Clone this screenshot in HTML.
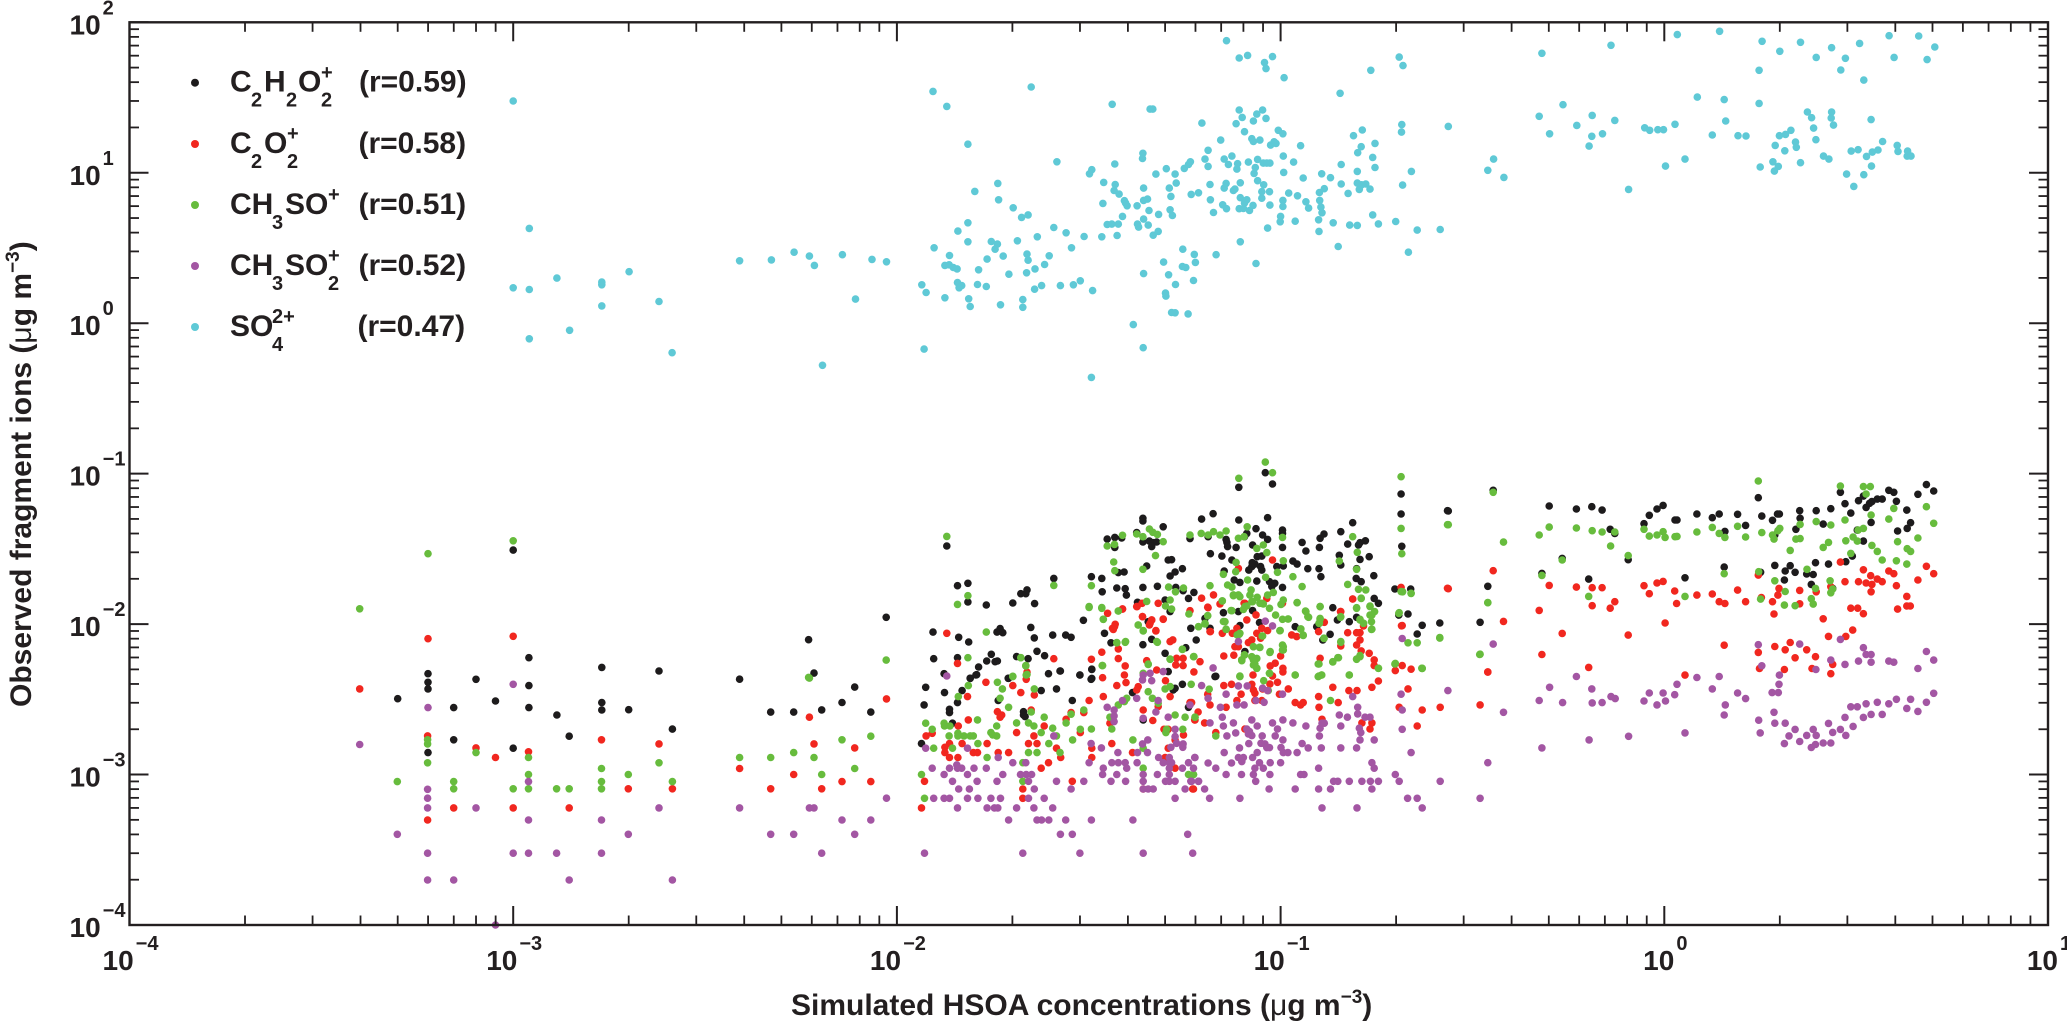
<!DOCTYPE html>
<html lang="en">
<head>
<meta charset="utf-8">
<title>Observed fragment ions vs simulated HSOA</title>
<style>
html,body{margin:0;padding:0;background:#fff}
svg{display:block}
text{font-family:"Liberation Sans",Arial,sans-serif;fill:#231f20}
.lg{font-size:30px;font-weight:700}
.lgs{font-size:20px;font-weight:700}
.ttl{font-size:30px;font-weight:700}
</style>
</head>
<body>
<svg id="chart" xmlns="http://www.w3.org/2000/svg" width="2067" height="1023" viewBox="0 0 2067 1023">
<g id="marks"></g>
<g id="axes"></g>
<rect x="129.5" y="22.3" width="1918.5" height="902.7" fill="none" stroke="#231f20" stroke-width="2.4"/>
<text class="ttl" x="791" y="1015">Simulated HSOA concentrations (<tspan font-weight="400">μ</tspan>g m<tspan dy="-12" font-size="19">−3</tspan><tspan dy="12">)</tspan></text>
<text class="ttl" transform="translate(31,707) rotate(-90)">Observed fragment ions (<tspan font-weight="400">μ</tspan>g m<tspan dy="-12" font-size="19">−3</tspan><tspan dy="12">)</tspan></text>
<g>
<g>
<circle cx="195" cy="82.7" r="4" fill="#1d1b1c"/>
<text class="lg" y="91.7"><tspan x="230">C</tspan><tspan x="264">H</tspan><tspan x="298">O</tspan><tspan x="359">(r=0.59)</tspan></text>
<text class="lgs" y="106.7"><tspan x="251">2</tspan><tspan x="286">2</tspan><tspan x="321">2</tspan></text>
<text class="lgs" x="321" y="79">+</text>
</g>
<g>
<circle cx="195" cy="144" r="4" fill="#f1271f"/>
<text class="lg" y="153"><tspan x="230">C</tspan><tspan x="264">O</tspan><tspan x="358.5">(r=0.58)</tspan></text>
<text class="lgs" y="168"><tspan x="251">2</tspan><tspan x="287">2</tspan></text>
<text class="lgs" x="287" y="140">+</text>
</g>
<g>
<circle cx="195" cy="205" r="4" fill="#67bc3d"/>
<text class="lg" y="214"><tspan x="230">CH</tspan><tspan x="285">SO</tspan><tspan x="358.5">(r=0.51)</tspan></text>
<text class="lgs" x="272" y="229">3</text>
<text class="lgs" x="328" y="201">+</text>
</g>
<g>
<circle cx="195" cy="266" r="4" fill="#a356a3"/>
<text class="lg" y="275"><tspan x="230">CH</tspan><tspan x="285">SO</tspan><tspan x="358.5">(r=0.52)</tspan></text>
<text class="lgs" y="290"><tspan x="272">3</tspan><tspan x="328">2</tspan></text>
<text class="lgs" x="328" y="262">+</text>
</g>
<g>
<circle cx="195" cy="327" r="4" fill="#5fc9d6"/>
<text class="lg" y="336"><tspan x="230">SO</tspan><tspan x="357.5">(r=0.47)</tspan></text>
<text class="lgs" x="272" y="351">4</text>
<text class="lgs" x="272" y="323">2+</text>
</g>
</g>
</svg>
<script>
// All values are log10 of the concentration (µg m-3): [log10 x, log10 y]
const xDecades = [-4,-3,-2,-1,0,1];
const yDecades = [-4,-3,-2,-1,0,1,2];
const minorMultipliers = [2,3,4,5,6,7,8,9];

const black = [[-3.301,-2.496],[-3.222,-2.33],[-3.222,-2.387],[-3.222,-2.431],[-3.155,-2.555],[-3.097,-2.367],[-3.046,-2.511],[-3,-1.508],[-2.959,-2.223],[-2.959,-2.409],[-2.959,-2.555],[-2.886,-2.604],[-2.769,-2.288],[-2.769,-2.522],[-2.769,-2.571],[-2.699,-2.569],[-2.62,-2.312],[-2.41,-2.366],[-2.329,-2.585],[-2.269,-2.585],[-2.216,-2.326],[-2.196,-2.57],[-2.143,-2.521],[-2.11,-2.419],[-2.068,-2.585],[-2.585,-2.698],[-2.854,-2.745],[-3.155,-2.769],[-3,-2.825],[-3.222,-2.854],[-2.23,-2.104],[-2.028,-1.955],
[-1.87,-1.481],[-1.842,-1.745],[-1.815,-1.729],[-1.815,-1.853],[-1.767,-1.873],[-1.698,-1.86],[-1.641,-1.864],[-1.677,-1.798],[-1.664,-1.798],[-1.661,-1.773],[-1.591,-1.696],[-1.906,-2.053],[-1.839,-2.088],[-1.813,-2.119],[-1.739,-2.053],[-1.731,-2.03],[-1.724,-2.057],[-1.651,-2.022],[-1.642,-2.092],[-1.594,-2.073],[-1.56,-2.073],[-1.546,-2.088],[-1.904,-2.23],[-1.842,-2.223],[-1.754,-2.201],[-1.766,-2.245],[-1.744,-2.25],[-1.738,-2.245],[-1.688,-2.216],[-1.658,-2.23],[-1.635,-2.181],[-1.615,-2.21],[-1.787,-2.285],[-1.605,-2.33],[-1.574,-2.312],[-1.877,-2.33],[-1.792,-2.336],[-1.809,-2.36],[-1.709,-2.36],
[-1.493,-1.685],[-1.466,-1.696],[-1.465,-1.785],[-1.514,-1.975],[-1.427,-1.76],[-1.405,-1.765],[-1.402,-1.807],[-1.359,-1.756],[-1.321,-1.749],[-1.452,-1.435],[-1.432,-1.424],[-1.414,-1.428],[-1.432,-1.49],[-1.359,-1.297],[-1.359,-1.315],[-1.375,-1.392],[-1.306,-1.353],[-1.359,-1.454],[-1.342,-1.448],[-1.332,-1.459],[-1.323,-1.454],[-1.336,-1.485],[-1.206,-1.302],[-1.176,-1.266],[-1.236,-1.432],[-1.189,-1.419],[-1.349,-1.614],[-1.423,-1.658],[-1.408,-1.654],[-1.293,-1.574],[-1.284,-1.572],[-1.288,-1.68],[-1.275,-1.654],[-1.256,-1.632],[-1.273,-1.756],[-1.254,-1.778],[-1.24,-1.829],[-1.226,-1.789],[-1.183,-1.532],[-1.153,-1.548],[-1.142,-1.437],[-1.14,-1.457],[-1.138,-1.485],[-1.116,-1.49],[-1.109,-1.091],[-1.109,-1.308],[-1.04,-.994],[-1.021,-1.069],[-1.034,-1.293],[-1.127,-1.574],[-1.121,-1.707],[-1.106,-1.723],[-1.147,-1.647],[-1.088,-1.397],[-1.094,-1.419],[-1.064,-1.366],[-1.047,-1.408],[-1.034,-1.437],[-.995,-1.375],[-.995,-1.397],[-1.073,-1.474],[-.995,-1.49],[-1.061,-1.552],[-1.049,-1.548],[-1.083,-1.641],[-1.075,-1.618],[-1.067,-1.601],[-1.052,-1.618],[-1.049,-1.641],[-1.074,-1.592],[-1.062,-1.714],[-1.029,-1.718],[-1.015,-1.729],[-.995,-1.756],[-1.023,-1.751],[-.993,-1.614],[-1.01,-1.618],[-.944,-1.457],[-.934,-1.514],[-.968,-1.581],[-.957,-1.601],[-.929,-1.632],[-.899,-1.49],[-.897,-1.43],[-.887,-1.401],[-.9,-1.632],[-.895,-1.685],[-.843,-1.386],[-.812,-1.326],[-.825,-1.468],[-.847,-1.543],[-.843,-1.607],[-.797,-1.474],[-.793,-1.459],[-.779,-1.446],[-.793,-1.57],[-.769,-1.552],[-.802,-1.632],[-.803,-1.696],[-.79,-1.718],[-.757,-1.678],[-.756,-1.829],[-.745,-1.862],[-.864,-1.891],[-.802,-1.955],[-.852,-1.973],[-.821,-1.984],[-.686,-1.135],[-.686,-1.268],[-.684,-1.483],[-.702,-1.767],[-.661,-1.767],[-.668,-1.933],[-.692,-1.94],[-.631,-2.008],[-.644,-2.066],[-.585,-1.993],[-.565,-1.246],
[-1.149,-1.924],[-1.197,-1.962],[-1.184,-2.028],[-1.234,-2.028],[-1.345,-1.984],[-1.301,-1.84],[-1.288,-1.917],[-1.373,-1.855],[-1.442,-2.124],[-1.359,-2.137],[-1.336,-2.101],[-1.301,-2.194],[-1.22,-2.106],[-1.247,-2.157],[-1.492,-2.301],[-1.575,-2.312],[-1.523,-2.338],[-1.106,-2.01],[-1.093,-2.183],[-1.11,-1.917],[-1.073,-1.91],[-1.055,-1.99],[-.962,-2.017],[-.871,-2.068],[-.89,-2.106],[-.906,-2.017],[-1.171,-2.349],[-1.492,-2.361],[-1.459,-2.061],
[-1.925,-2.42],[-1.876,-2.455],[-1.929,-2.537],[-1.83,-2.442],[-1.842,-2.522],[-1.863,-2.566],[-1.863,-2.588],[-1.855,-2.659],[-1.936,-2.794],[-1.809,-2.36],[-1.794,-2.338],[-1.71,-2.36],[-1.736,-2.508],[-1.67,-2.582],[-1.67,-2.604],[-1.666,-2.615],[-1.624,-2.442],[-1.584,-2.431],[-1.543,-2.508],[-1.523,-2.338],[-1.492,-2.3],[-1.494,-2.367],[-1.386,-2.455],[-1.358,-2.637],[-1.28,-2.438],[-1.275,-2.427],[-1.256,-2.4],[-1.24,-2.553],[-1.293,-2.316],[-1.169,-2.347],[-.48,-1.988],
[-.563,-1.248],[-.446,-1.111],[-.46,-1.749],[-.319,-1.663],[-.3,-1.215],[-.266,-1.563],[-.229,-1.235],[-.189,-1.22],[-.162,-1.242],[-.197,-1.701],[-.141,-1.37],[-.129,-1.397],[-.094,-1.572],[-.053,-1.333],[-.039,-1.277],[-.019,-1.235],[-.003,-1.211],[.028,-1.308],[.033,-1.308],[.054,-1.692],[.085,-1.268],[.125,-1.293],[.143,-1.268],[.158,-1.384],[.156,-1.621],[.191,-1.27],[.212,-1.344],[.245,-1.16],[.254,-1.282],[.282,-1.31],[.295,-1.268],[.3,-1.268],[.288,-1.408],[.251,-1.656],[.288,-1.61],[.315,-1.647],[.328,-1.612],[.341,-1.656],[.313,-1.707],[.353,-1.246],[.354,-1.297],[.343,-1.37],[.396,-1.246],[.414,-1.335],[.434,-1.233],[.394,-1.592],[.371,-1.667],[.388,-1.67],[.383,-1.736],[.428,-1.601],[.439,-1.763],[.459,-1.124],[.471,-1.2],[.486,-1.262],[.506,-1.18],[.519,-1.149],[.526,-1.224],[.535,-1.197],[.541,-1.186],[.555,-1.169],[.568,-1.169],[.585,-1.111],[.598,-1.124],[.605,-1.184],[.632,-1.242],[.661,-1.137],[.683,-1.073],[.702,-1.115],[.539,-1.324],[.503,-1.375],[.519,-1.448],[.608,-1.381],[.633,-1.364],[.642,-1.326],[.49,-1.548],[.473,-1.585]];

const red = [[-3.4,-2.431],[-3.222,-2.097],[-3,-2.081],[-3.223,-2.743],[-3.097,-2.823],[-3.046,-2.887],[-2.96,-2.849],[-2.77,-2.769],[-2.62,-2.796],[-3.223,-3.302],[-3.155,-3.222],[-3,-3.222],[-2.854,-3.222],[-2.7,-3.095],[-2.585,-3.095],[-2.41,-2.96],[-2.329,-3.095],[-2.269,-3],[-2.228,-2.619],[-2.216,-2.796],[-2.196,-3.095],[-2.143,-3.047],[-2.11,-2.823],[-2.068,-3.047],[-2.027,-2.497],
[-1.87,-2.061],[-1.842,-2.261],[-1.591,-2.23],[-1.661,-2.32],[-1.816,-2.482],[-1.768,-2.387],[-1.698,-2.409],[-1.677,-2.455],[-1.663,-2.367],[-1.642,-2.471],[-1.814,-2.637],[-1.84,-2.677],[-1.738,-2.582],[-1.727,-2.604],[-1.731,-2.619],[-1.65,-2.571],[-1.924,-2.743],[-1.908,-2.726],[-1.863,-2.794],[-1.875,-2.819],[-1.875,-2.854],[-1.863,-2.887],[-1.841,-2.887],[-1.83,-2.794],[-1.801,-2.854],[-1.79,-2.854],[-1.765,-2.794],[-1.736,-2.854],[-1.709,-2.854],[-1.688,-2.721],[-1.657,-2.794],[-1.635,-2.794],[-1.643,-2.743],[-1.616,-2.677],[-1.584,-2.825],[-1.573,-2.887],[-1.605,-2.921],[-1.624,-2.958],[-1.559,-2.633],[-1.546,-2.588],[-1.522,-2.721],[-1.513,-2.588],[-1.499,-2.508],[-1.462,-2.482],[-1.427,-2.409],[-1.403,-2.389],[-1.407,-2.338],[-1.405,-2.278],[-1.423,-2.229],[-1.464,-2.356],[-1.493,-2.234],[-1.466,-2.187],[-1.423,-2.165],[-1.438,-2.028],[-1.431,-2.001],[-1.451,-1.928],[-1.412,-1.899],[-1.375,-1.884],[-1.36,-1.95],[-1.34,-1.995],[-1.336,-1.972],[-1.325,-2.043],[-1.306,-1.966],[-1.319,-1.862],[-1.445,-2.659],[-1.492,-2.825],[-1.492,-2.887],[-1.44,-2.794],[-1.386,-2.854],[-1.543,-3.045],[-1.672,-3.096],[-1.672,-3.158],[-1.928,-3.045],[-1.936,-3.222],[-1.358,-3.096],[-1.229,-3.096],[-1.275,-2.958],[-1.301,-2.887],[-1.293,-2.825],[-1.293,-2.699],[-1.304,-2.699],[-1.253,-2.737],[-1.275,-2.77],[-1.223,-2.637],[-1.236,-2.522],[-1.288,-2.482],[-1.358,-2.571],[-1.333,-2.641],[-1.375,-2.438],[-1.371,-2.416],[-1.349,-2.243],[-1.323,-2.305],[-1.271,-2.227],[-1.254,-2.227],[-1.273,-2.271],[-1.254,-2.276],[-1.226,-2.318],[-1.288,-2.116],[-1.281,-2.105],[-1.319,-2.548],[-1.3,-2.376],[-1.21,-2.25],
[-1.206,-1.828],[-1.175,-1.806],[-1.158,-1.866],[-1.19,-1.888],[-1.064,-1.939],[-1.093,-1.862],[-1.088,-1.972],[-1.152,-2.061],[-1.126,-2.061],[-1.114,-2.028],[-1.184,-2.05],[-1.119,-2.15],[-1.11,-2.15],[-1.075,-2.105],[-1.084,-2.123],[-1.062,-2.061],[-1.049,-2.028],[-1.034,-2.043],[-1.052,-2.094],[-1.148,-2.212],[-1.122,-2.207],[-1.101,-2.238],[-1,-2.212],[-1.027,-2.278],[-1.014,-2.26],[-.994,-2.294],[-.994,-2.318],[-1.072,-2.338],[-1.021,-2.345],[-1.028,-2.398],[-1.008,-2.387],[-1.148,-2.409],[-1.128,-2.4],[-1.075,-2.4],[-1.071,-2.438],[-1.067,-2.46],[-1.047,-2.431],[-.98,-2.431],[-1.003,-2.466],[-1.103,-2.466],[-1.114,-2.508],[-1.19,-2.466],[-1.184,-2.537],[-1.142,-2.553],[-1.067,-2.508],[-1.049,-2.508],[-.962,-2.522],[-.948,-2.537],[-.941,-2.522],[-.901,-2.482],[-.9,-2.553],[-.864,-2.42],[-.85,-2.522],[-.822,-2.442],[-.801,-2.442],[-.762,-2.42],[-.745,-2.378],[-.892,-2.633],[-.788,-2.657],[-.762,-2.657],[-.767,-2.697],[-.691,-2.553],[-.668,-2.431],[-.631,-2.571],[-.584,-2.553],[-.48,-2.537],[-.644,-2.677],[-.46,-2.318],[-.683,-2.01],[-.683,-2.276],[-.701,-2.309],[-.66,-2.3],[-.897,-2.227],[-.802,-2.139],[-.793,-2.105],[-.793,-2.057],[-.802,-2.057],[-.784,-2.012],[-.79,-2.178],[-.769,-2.194],[-.756,-2.238],[-.756,-2.276],[-.825,-2.057],[-.812,-1.833],[-.844,-1.917],[-.843,-2.145],[-.901,-2.05],[-.886,-1.988],[-.958,-2.083],[-.971,-2.072],[-1.232,-2.522],[-1.215,-2.584],[-1.224,-2.637],[-1.198,-2.657],[-1.093,-2.697],[-1.169,-2.721],[-1.227,-3.096],
[-1.412,-1.9],[-1.374,-1.884],[-1.361,-1.862],[-1.189,-1.891],[-1.236,-1.911],[-1.36,-1.951],[-1.336,-1.973],[-1.342,-2.006],[-1.306,-1.968],[-1.433,-2.017],[-1.436,-2.035],[-1.325,-2.046],[-1.183,-2.05],[-1.021,-1.574],[-1.11,-1.63],[-1.095,-1.862],[-.812,-1.833],[-.843,-1.917],[-.686,-1.756],[-.565,-1.762],[-.995,-1.862],[-1.036,-1.829],[-.685,-2.011],
[-.563,-1.765],[-.446,-1.645],[-.419,-1.982],[-.46,-2.319],[-.326,-1.909],[-.3,-1.743],[-.266,-2.062],[-.319,-2.202],[-.229,-1.754],[-.188,-1.758],[-.162,-1.758],[-.129,-1.851],[-.188,-1.878],[-.141,-1.894],[-.094,-2.073],[-.197,-2.288],[-.053,-1.745],[-.039,-1.798],[-.019,-1.727],[-.003,-1.716],[.027,-1.78],[.032,-1.863],[.002,-1.993],[.054,-2.339],[.085,-1.807],[.125,-1.8],[.143,-1.851],[.158,-1.863],[.156,-2.14],[.191,-1.774],[.212,-1.851],[.245,-1.674],[.253,-1.823],[.282,-1.851],[.299,-1.763],[.296,-1.807],[.286,-1.933],[.353,-1.776],[.353,-1.865],[.396,-1.785],[.434,-1.752],[.414,-1.965],[.459,-1.588],[.471,-1.718],[.506,-1.718],[.519,-1.639],[.526,-1.727],[.541,-1.736],[.538,-1.678],[.555,-1.701],[.568,-1.718],[.539,-1.785],[.585,-1.647],[.598,-1.665],[.605,-1.745],[.632,-1.816],[.661,-1.707],[.683,-1.616],[.702,-1.665],[.486,-1.894],[.504,-1.894],[.519,-1.931],[.608,-1.9],[.632,-1.88],[.641,-1.88],[.428,-2.082],[.473,-2.082],[.491,-2.04],[.245,-2.188],[.288,-2.149],[.315,-2.171],[.328,-2.122],[.371,-2.171],[.394,-2.217],[.341,-2.224],[.439,-2.268],[.248,-2.295],[.313,-2.302],[.385,-2.295],[.434,-2.33]];

const green = [[-3.4,-1.898],[-3.222,-1.532],[-3,-1.446],[-3.302,-3.047],[-3.223,-2.769],[-3.223,-2.796],[-3.223,-2.922],[-3.155,-3.047],[-3.155,-3.095],[-3.097,-2.854],[-3,-3.095],[-2.96,-2.887],[-2.96,-3],[-2.96,-3.095],[-2.887,-3.095],[-2.854,-3.095],[-2.77,-2.96],[-2.77,-3.047],[-2.77,-3.095],[-2.7,-3],[-2.62,-2.922],[-2.585,-3.047],[-2.41,-2.887],[-2.329,-2.887],[-2.269,-2.854],[-2.228,-2.359],[-2.216,-2.887],[-2.196,-3],[-2.143,-2.769],[-2.11,-2.96],[-2.068,-2.745],[-2.028,-2.239],[-2.23,-2.354],
[-1.87,-1.417],[-1.842,-1.869],[-1.815,-1.811],[-1.591,-1.743],[-1.767,-2.053],[-1.815,-2.223],[-1.677,-2.223],[-1.664,-2.276],[-1.661,-2.334],[-1.698,-2.347],
[-1.493,-1.745],[-1.452,-1.481],[-1.433,-1.47],[-1.412,-1.41],[-1.435,-1.587],[-1.432,-1.645],[-1.375,-1.401],[-1.359,-1.419],[-1.342,-1.368],[-1.333,-1.39],[-1.321,-1.404],[-1.306,-1.452],[-1.326,-1.545],[-1.359,-1.636],[-1.236,-1.408],[-1.207,-1.397],[-1.189,-1.408],[-1.175,-1.386],[-1.158,-1.408],[-1.142,-1.381],[-1.11,-1.43],[-1.095,-1.419],[-1.087,-1.353],[-1.109,-1.031],[-1.04,-.923],[-1.021,-.994],[-.995,-1.424],[-1.062,-1.497],[-1.045,-1.474],[-1.036,-1.525],[-1.116,-1.59],[-1.117,-1.652],[-1.149,-1.669],[-.993,-1.579],[-1.008,-1.656],[-1.039,-1.689],[-1.086,-1.707],[-.968,-1.685],[-1.184,-1.745],[-1.292,-1.754],[-1.274,-1.785],[-1.253,-1.76],[-1.138,-1.74],[-1.127,-1.754],[-1.077,-1.773],[-1.08,-1.807],[-1.061,-1.822],[-1.073,-1.851],[-1.045,-1.866],[-1.123,-1.811],[-1.106,-1.818],[-1.034,-1.807],[-1.019,-1.789],[-.944,-1.751],[-.812,-1.419],[-.8,-1.523],[-.802,-1.636],[-.847,-1.581],[-.825,-1.736],[-.797,-1.769],[-.778,-1.773],[-.79,-1.829],[-.686,-1.02],[-.686,-1.364],[-.684,-1.532],[-.682,-1.785],[-.66,-1.796],[-.565,-1.339],[-.692,-1.929],[-.668,-2.124],[-.644,-2.124],[-.585,-2.09],[-.631,-2.294],[-.701,-2.261],[-1.499,-1.889],[-1.466,-1.895],[-1.423,-1.913],[-1.462,-1.968],[-1.349,-1.849],[-1.288,-1.84],[-1.3,-1.88],[-1.284,-1.9],[-1.371,-2.006],[-1.358,-2.046],[-1.427,-2.124],[-1.405,-2.121],[-1.321,-2.121],[-1.239,-1.933],[-1.214,-2.017],[-1.197,-1.999],[-1.19,-1.944],[-1.152,-1.846],[-1.145,-1.984],[-1.142,-2.035],[-1.127,-1.911],[-1.097,-1.902],[-1.088,-1.88],[-1.049,-1.862],[-1.029,-1.895],[-1.013,-1.94],[-.995,-1.968],[-.981,-1.966],[-.999,-1.869],[-.993,-1.84],[-.957,-1.858],[-.935,-1.913],[-.929,-1.951],[-.897,-1.884],[-.897,-1.962],[-.9,-1.995],[-1.002,-2.044],[-.948,-2.033],[-.941,-2.073],[-.887,-2.095],[-.843,-1.951],[-.802,-1.891],[-.767,-1.88],[-.763,-1.94],[-.767,-1.94],[-.793,-1.973],[-.784,-1.995],[-.763,-1.984],[-.763,-2.035],[-.843,-2.121],[-1.048,-2.079],[-1.108,-2.068],[-1.071,-2.15],[-1.054,-2.155],[-1.094,-2.205],[-1.075,-2.217],[-1.062,-2.228],[-1.101,-2.243],[-1.071,-2.272],[-1.062,-2.294],[-1.028,-2.188],[-.995,-2.139],[-.995,-2.172],[-1.288,-2.234],[-1.256,-2.168],[-1.227,-2.217],[-1.465,-2.276],[-1.345,-2.268],[-1.358,-2.327],[-1.106,-2.349],[-1.029,-2.327],[-.962,-2.338],[-.902,-2.349],[-.893,-2.338],[-.821,-2.338],[-.902,-2.265],[-.864,-2.252],[-.849,-2.223],[-.802,-2.234],[-.793,-2.217],[-.745,-2.294],
[-1.925,-2.659],[-1.908,-2.699],[-1.877,-2.659],[-1.876,-2.677],[-1.862,-2.677],[-1.864,-2.743],[-1.841,-2.726],[-1.841,-2.743],[-1.825,-2.743],[-1.809,-2.743],[-1.801,-2.743],[-1.904,-2.825],[-1.855,-2.825],[-1.789,-2.794],[-1.79,-2.637],[-1.765,-2.887],[-1.755,-2.721],[-1.74,-2.677],[-1.74,-2.743],[-1.75,-2.737],[-1.814,-2.409],[-1.84,-2.482],[-1.738,-2.387],[-1.725,-2.431],[-1.731,-2.493],[-1.709,-2.553],[-1.698,-2.349],[-1.677,-2.223],[-1.664,-2.278],[-1.663,-2.338],[-1.642,-2.431],[-1.65,-2.584],[-1.688,-2.657],[-1.657,-2.657],[-1.643,-2.677],[-1.616,-2.619],[-1.624,-2.721],[-1.594,-2.692],[-1.584,-2.743],[-1.559,-2.657],[-1.546,-2.599],[-1.604,-2.794],[-1.657,-2.854],[-1.635,-2.854],[-1.575,-2.854],[-1.542,-2.77],[-1.522,-2.699],[-1.493,-2.697],[-1.513,-2.571],[-1.928,-3.158],[-1.936,-3],[-1.672,-2.921],[-1.672,-3.045],[-1.44,-2.697],[-1.445,-2.619],[-1.423,-2.537],[-1.407,-2.515],[-1.401,-2.493],[-1.385,-2.77],[-1.358,-2.825],[-1.358,-2.958],[-1.345,-2.449],[-1.334,-2.493],[-1.319,-2.526],[-1.464,-2.276],[-1.499,-1.884],[-1.466,-1.89],[-1.462,-1.968],[-1.423,-1.913],[-1.427,-2.123],[-1.404,-2.116],[-1.371,-2.006],[-1.358,-2.043],[-1.323,-2.116],[-1.256,-2.167],[-1.288,-2.232],[-1.345,-2.265],[-1.226,-2.216],[-1.301,-2.431],[-1.288,-2.415],[-1.233,-2.4],[-1.249,-2.619],[-1.223,-2.619],[-1.275,-2.604],[-1.299,-2.721],[-1.297,-2.699],[-1.255,-2.699],[-1.24,-3],[-1.227,-3],
[-1.214,-2.017],[-1.197,-1.995],[-1.19,-1.944],[-1.152,-1.846],[-1.123,-1.806],[-1.11,-1.806],[-1.149,-1.983],[-1.142,-2.034],[-1.129,-1.91],[-1.093,-1.884],[-1.075,-1.851],[-1.054,-1.862],[-1.113,-2.072],[-1.106,-2.061],[-1.001,-2.043],[-1.027,-2.183],[-1.101,-2.238],[-1.094,-2.205],[-1.071,-2.15],[-1.055,-2.154],[-.993,-2.15],[-.993,-2.172],[-1.047,-2.079],[-1.071,-2.238],[-1.067,-2.265],[-1.062,-2.294],[-1.029,-2.327],[-1.106,-2.345],[-1.044,-2.376],[-1.032,-2.442],[-.962,-2.338],[-.9,-2.345],[-.893,-2.338],[-.821,-2.338],[-.9,-2.265],[-.864,-2.25],[-.851,-2.223],[-.802,-2.232],[-.793,-2.209],[-.745,-2.294],[-.702,-2.265],[-.632,-2.294],[-.48,-2.2],[-.87,-2.508],[-1.186,-2.433],[-1.223,-2.619],[-1.169,-2.743],[-1.227,-3],[-.947,-2.032],[-.941,-2.076],[-.887,-2.094],[-.843,-2.116],[-.98,-1.966],[-.957,-1.857],[-.934,-1.917],[-.927,-1.955],[-.897,-1.884],[-.897,-1.968],[-.899,-1.995],[-.844,-1.955],[-.802,-1.895],[-.793,-1.968],[-.784,-1.995],[-.762,-2.034],[-.767,-1.884],[-.755,-1.917],[-.762,-1.939],[-.691,-1.924],[-.46,-1.857],[-.79,-1.828],[-.686,-1.784],[-.66,-1.795],
[-.563,-1.339],[-.446,-1.124],[-.419,-1.455],[-.46,-1.858],[-.585,-2.093],[-.481,-2.202],[-.631,-2.295],[-.326,-1.408],[-.3,-1.355],[-.266,-1.574],[-.319,-1.676],[-.229,-1.361],[-.188,-1.379],[-.162,-1.388],[-.14,-1.481],[-.129,-1.388],[-.094,-1.545],[-.197,-1.816],[-.053,-1.37],[-.039,-1.415],[-.019,-1.408],[-.003,-1.386],[.002,-1.424],[.028,-1.419],[.033,-1.417],[.054,-1.816],[.085,-1.388],[.125,-1.357],[.143,-1.397],[.158,-1.424],[.156,-1.665],[.191,-1.35],[.212,-1.421],[.245,-1.049],[.254,-1.392],[.282,-1.408],[.286,-1.435],[.296,-1.379],[.301,-1.364],[.251,-1.834],[.246,-1.652],[.288,-1.712],[.315,-1.783],[.313,-1.874],[.341,-1.878],[.328,-1.51],[.343,-1.435],[.354,-1.432],[.354,-1.337],[.396,-1.319],[.434,-1.341],[.372,-1.636],[.394,-1.763],[.383,-1.831],[.388,-1.867],[.432,-1.712],[.439,-1.767],[.434,-1.792],[.414,-1.49],[.428,-1.457],[.459,-1.082],[.471,-1.308],[.473,-1.446],[.492,-1.421],[.503,-1.448],[.486,-1.53],[.505,-1.375],[.519,-1.364],[.519,-1.086],[.537,-1.086],[.526,-1.135],[.539,-1.275],[.541,-1.477],[.555,-1.517],[.568,-1.574],[.585,-1.302],[.598,-1.231],[.608,-1.452],[.605,-1.579],[.632,-1.601],[.633,-1.499],[.642,-1.517],[.661,-1.428],[.683,-1.22],[.702,-1.33]];

const purple = [[-3.4,-2.8],[-3.222,-2.555],[-3,-2.4],[-2.96,-3.047],[-2.96,-3.302],[-3.223,-3.098],[-3.223,-3.157],[-3.223,-3.222],[-3.097,-3.222],[-2.62,-3.222],[-2.41,-3.222],[-2.228,-3.222],[-2.216,-3.222],[-3.302,-3.397],[-2.7,-3.397],[-2.329,-3.397],[-2.269,-3.397],[-2.11,-3.397],[-2.77,-3.302],[-2.143,-3.302],[-2.068,-3.302],[-3.223,-3.523],[-3,-3.523],[-2.96,-3.523],[-2.887,-3.523],[-2.77,-3.523],[-2.196,-3.523],[-3.223,-3.701],[-3.155,-3.701],[-2.854,-3.701],[-2.585,-3.701],[-3.046,-4],[-2.027,-3.157],
[-1.87,-2.345],[-1.925,-2.825],[-1.816,-2.825],[-1.908,-2.958],[-1.863,-2.958],[-1.844,-2.936],[-1.842,-2.958],[-1.831,-2.958],[-1.799,-2.958],[-1.767,-2.958],[-1.736,-2.887],[-1.698,-2.921],[-1.664,-2.921],[-1.877,-3],[-1.816,-3],[-1.724,-3],[-1.678,-3],[-1.663,-3],[-1.649,-3],[-1.855,-3.045],[-1.791,-3.045],[-1.739,-3.045],[-1.657,-3.045],[-1.584,-3.045],[-1.513,-3.045],[-1.839,-3.096],[-1.811,-3.096],[-1.642,-3.096],[-1.546,-3.096],[-1.904,-3.158],[-1.877,-3.158],[-1.863,-3.158],[-1.816,-3.158],[-1.789,-3.158],[-1.755,-3.158],[-1.73,-3.158],[-1.657,-3.158],[-1.616,-3.158],[-1.842,-3.222],[-1.765,-3.222],[-1.746,-3.222],[-1.737,-3.222],[-1.688,-3.222],[-1.643,-3.222],[-1.594,-3.222],[-1.709,-3.302],[-1.635,-3.302],[-1.623,-3.302],[-1.604,-3.302],[-1.56,-3.302],[-1.493,-3.302],[-1.385,-3.302],[-1.574,-3.397],[-1.543,-3.397],[-1.242,-3.397],[-1.928,-3.523],[-1.672,-3.523],[-1.523,-3.523],[-1.358,-3.523],[-1.229,-3.523],[-1.591,-2.743],[-1.494,-2.794],[-1.467,-2.823],[-1.424,-2.854],[-1.373,-2.854],[-1.347,-2.854],[-1.499,-2.921],[-1.44,-2.921],[-1.423,-2.921],[-1.405,-2.921],[-1.374,-2.921],[-1.318,-2.887],[-1.306,-2.921],[-1.29,-2.887],[-1.29,-2.921],[-1.29,-2.958],[-1.284,-2.921],[-1.462,-2.958],[-1.401,-2.958],[-1.358,-3],[-1.464,-3],[-1.427,-3],[-1.442,-3.045],[-1.404,-3.045],[-1.358,-3.045],[-1.358,-3.096],[-1.345,-3.096],[-1.332,-3.096],[-1.321,-3],[-1.29,-3],[-1.3,-3.045],[-1.29,-3.045],[-1.275,-3.045],[-1.249,-3.096],[-1.275,-3.158],[-1.256,-2.958],[-1.24,-2.921],[-1.223,-2.887],[-1.227,-2.958],[-1.234,-3.045],[-1.214,-3.045],[-1.452,-2.553],[-1.434,-2.571],[-1.434,-2.61],[-1.434,-2.648],[-1.412,-2.508],[-1.375,-2.493],[-1.36,-2.371],[-1.358,-2.338],[-1.34,-2.327],[-1.336,-2.376],[-1.306,-2.316],[-1.319,-2.508],[-1.325,-2.584],[-1.358,-2.626],[-1.293,-2.619],[-1.236,-2.537],[-1.346,-2.77],[-1.36,-2.796],[-1.275,-2.699],[-1.275,-2.748],[-1.271,-2.792],[-1.254,-2.796],[-1.286,-2.819],[-1.255,-2.819],
[-1.176,-2.291],[-1.206,-2.409],[-1.142,-2.466],[-1.11,-2.411],[-1.087,-2.411],[-1.189,-2.493],[-1.157,-2.553],[-1.114,-2.537],[-1.095,-2.537],[-1.064,-2.508],[-1.043,-2.52],[-1.047,-2.426],[-1.034,-2.442],[-.995,-2.466],[-1.152,-2.619],[-1.123,-2.657],[-1.184,-2.657],[-1.149,-2.677],[-1.075,-2.637],[-1.061,-2.677],[-1.021,-2.657],[-.994,-2.637],[-1.008,-2.697],[-.968,-2.657],[-.934,-2.677],[-1.088,-2.697],[-1.14,-2.743],[-1.117,-2.723],[-1.084,-2.73],[-1.075,-2.741],[-1.081,-2.714],[-1.048,-2.743],[-1.014,-2.743],[-.994,-2.77],[-1.083,-2.794],[-1.051,-2.792],[-1.041,-2.796],[-1.029,-2.821],[-1.036,-2.821],[-.999,-2.821],[-.993,-2.854],[-.981,-2.854],[-.944,-2.794],[-.928,-2.823],[-.957,-2.854],[-1.107,-2.823],[-1.147,-2.854],[-1.061,-2.854],[-1.073,-2.887],[-1.11,-2.887],[-1.097,-2.887],[-1.101,-2.914],[-1.224,-2.887],[-1.189,-2.923],[-1.128,-2.923],[-1.055,-2.921],[-1.027,-2.921],[-1,-2.921],[-1.169,-2.958],[-1.067,-2.958],[-1.045,-2.958],[-1.142,-3],[-1.102,-3],[-1.071,-3],[-1.028,-3],[-.948,-3],[-.939,-3],[-1.065,-3.045],[-1.214,-3.045],[-1.232,-3.045],[-1.198,-3.096],[-1.03,-3.096],[-.962,-3.096],[-.901,-3.096],[-.87,-3.096],[-1.185,-3.158],[-1.106,-3.158],[-.892,-3.222],[-.801,-3.222],[-.862,-3.045],[-.851,-3.045],[-.821,-3.045],[-.788,-3.045],[-.766,-3.045],[-.745,-3.045],[-.762,-3.096],[-.901,-2.958],[-.762,-2.921],[-.756,-2.958],[-.894,-2.823],[-.843,-2.823],[-.802,-2.823],[-.793,-2.77],[-.756,-2.77],[-.899,-2.743],[-.897,-2.692],[-.892,-2.659],[-.886,-2.659],[-.843,-2.677],[-.847,-2.604],[-.826,-2.619],[-.799,-2.553],[-.799,-2.597],[-.78,-2.619],[-.767,-2.619],[-.795,-2.692],[-.791,-2.721],[-.812,-2.482],[-.686,-2.466],[-.683,-2.571],[-.683,-2.699],[-.66,-2.854],[-.701,-3],[-.691,-3.045],[-.669,-3.158],[-.644,-3.158],[-.631,-3.222],[-.584,-3.045],[-.564,-2.442],[-.683,-2.096],[-.46,-2.921],[-.48,-3.158],[-1.11,-2.116],[-1.04,-1.981],[-1.021,-2.012],
[-.446,-2.133],[-.229,-2.348],[.085,-2.355],[.143,-2.348],[.245,-2.137],[.254,-2.277],[.3,-2.339],[.353,-2.133],[.395,-2.302],[.434,-2.239],[.459,-2.102],[.471,-2.268],[.519,-2.157],[.526,-2.202],[.539,-2.202],[.506,-2.246],[.539,-2.253],[.585,-2.246],[.598,-2.253],[.661,-2.295],[.683,-2.182],[.702,-2.239],
[-.419,-2.586],[-.326,-2.508],[-.319,-2.823],[-.299,-2.42],[-.265,-2.522],[-.196,-2.77],[-.189,-2.431],[-.188,-2.524],[-.162,-2.522],[-.139,-2.482],[-.128,-2.495],[-.093,-2.746],[-.053,-2.511],[-.039,-2.458],[-.019,-2.537],[-.003,-2.458],[.003,-2.511],[.027,-2.469],[.033,-2.4],[.054,-2.723],[.125,-2.431],[.159,-2.537],[.156,-2.604],[.191,-2.458],[.212,-2.495],[.246,-2.639],[.25,-2.723],[.286,-2.586],[.288,-2.659],[.315,-2.659],[.325,-2.743],[.313,-2.794],[.299,-2.4],[.281,-2.455],[.297,-2.455],
[.341,-2.7],[.353,-2.78],[.371,-2.74],[.383,-2.82],[.388,-2.7],[.394,-2.8],[.396,-2.74],[.414,-2.79],[.428,-2.66],[.434,-2.79],[.439,-2.72],[.459,-2.7],[.471,-2.62],[.473,-2.74],[.486,-2.55],[.492,-2.68],[.503,-2.55],[.519,-2.62],[.526,-2.53],[.539,-2.6],[.555,-2.52],[.568,-2.6],[.585,-2.53],[.605,-2.5],[.632,-2.56],[.642,-2.5],[.661,-2.58],[.683,-2.52],[.702,-2.46]];

const cyan = [[-3,1.477],[-2.958,.63],[-3,.235],[-2.958,.224],[-2.886,.3],[-2.769,.273],[-2.769,.255],[-2.698,.342],[-2.769,.115],[-2.62,.144],[-2.853,-.047],[-2.958,-.104],[-2.586,-.196],[-2.194,-.28],[-1.929,-.172],[-1.493,-.36],[-1.358,-.163],
[-2.41,.415],[-2.327,.421],[-2.268,.472],[-2.228,.446],[-2.215,.384],[-2.142,.455],[-2.065,.424],[-2.027,.408],[-2.108,.16],[-1.906,1.541],[-1.87,1.441],[-1.65,1.57],[-1.815,1.19],[-1.583,1.073],[-1.737,.929],[-1.797,.876],[-1.735,.82],[-1.697,.767],[-1.658,.72],[-1.675,.703],[-1.815,.667],[-1.841,.612],[-1.591,.636],[-1.559,.601],[-1.634,.574],[-1.686,.548],[-1.754,.543],[-1.738,.526],[-1.815,.541],[-1.744,.492],[-1.903,.501],[-1.863,.45],[-1.723,.446],[-1.661,.459],[-1.658,.419],[-1.765,.426],[-1.603,.448],[-1.615,.39],[-1.545,.501],[-1.875,.384],[-1.864,.388],[-1.853,.37],[-1.843,.361],[-1.787,.355],[-1.64,.361],[-1.662,.335],[-1.708,.326],[-1.935,.255],[-1.924,.204],[-1.842,.27],[-1.831,.25],[-1.838,.235],[-1.79,.257],[-1.767,.244],[-1.623,.25],[-1.641,.226],[-1.574,.25],[-1.54,.255],[-1.522,.282],[-1.49,.217],[-1.875,.169],[-1.813,.162],[-1.809,.111],[-1.73,.122],[-1.672,.157],[-1.672,.106],
[-1.512,.576],[-1.466,.574],[-1.426,.583],[-1.452,.656],[-1.44,.659],[-1.423,.659],[-1.412,.71],[-1.357,.692],[-1.373,.659],[-1.37,.639],[-1.345,.652],[-1.318,.723],[-1.282,.716],[-1.288,.754],[-1.343,.749],[-1.374,.78],[-1.463,.796],[-1.4,.78],[-1.404,.798],[-1.407,.814],[-1.421,.858],[-1.434,.882],[-1.431,.922],[-1.461,.936],[-1.498,.993],[-1.492,1.02],[-1.432,1.058],[-1.357,.898],[-1.357,.816],[-1.347,.825],[-1.286,.843],[-1.29,.898],[-1.272,.931],[-1.325,.991],[-1.298,1.027],[-1.275,.991],[-1.251,1.029],[-1.24,1.055],[-1.235,1.073],[-1.36,1.095],[-1.359,1.129],[-1.233,.856],[-1.214,.867],[-1.183,.82],[-1.184,.922],[-1.189,1.042],[-1.197,1.091],[-1.189,1.149],[-1.156,1.217],[-1.205,1.33],[-1.439,1.455],[-1.34,1.423],[-1.333,1.423],[-1.332,.585],[-1.319,.61],[-1.255,.492],[-1.305,.406],[-1.225,.457],[-1.222,.404],[-1.256,.377],[-1.247,.37],[-1.292,.322],[-1.274,.257],[-1.227,.284],[-1.3,.2],[-1.299,.18],[-1.284,.071],[-1.275,.069],[-1.241,.062],[-1.384,-.009],[-1.357,.33],[-1.168,.455],[-1.064,.397],[-1.105,.541],
[-1.175,.736],[-1.151,.787],[-1.141,.761],[-1.108,.761],[-1.097,.763],[-1.105,.834],[-1.088,.82],[-1.094,.798],[-1.081,.749],[-1.072,.783],[-1.049,.831],[-1.049,.874],[-1.044,.92],[-1.06,.947],[-1.029,.874],[-1.028,.785],[-.994,.816],[-.994,.776],[-1,.71],[-1.001,.674],[-.962,.678],[-1.034,.632],[-.9,.61],[-.901,.687],[-.863,.667],[-.85,.51],[-.82,.652],[-.8,.65],[-.76,.72],[-.745,.66],[-.892,.734],[-.927,.765],[-.895,.772],[-.898,.816],[-.934,.807],[-.956,.847],[-.979,.865],[-.899,.869],[-.886,.894],[-.842,.925],[-.824,.863],[-.87,.967],[-.893,.993],[-.941,.965],[-.992,1.002],[-1.069,.996],[-1.114,1.024],[-1.066,1.035],[-1.112,1.06],[-1.136,1.055],[-1.147,1.091],[-1.127,1.111],[-1.084,1.071],[-1.06,1.089],[-1.045,1.064],[-1.036,1.064],[-1.028,1.064],[-.993,1.111],[-.966,1.071],[-.948,1.18],[-.842,1.055],[-.8,1.009],[-.799,1.133],[-.79,1.173],[-.754,1.195],[-.76,1.102],[-.754,1.035],[-.8,.931],[-.789,.92],[-.778,.925],[-.795,.889],[-.767,.891],[-.81,1.246],[-.787,1.284],[-.845,1.528],[-.765,1.681],
[-1.141,1.878],[-1.108,1.763],[-1.086,1.78],[-1.042,1.732],[-1.038,1.692],[-1.021,1.772],[-.991,1.632],[-1.108,1.417],[-1.1,1.368],[-1.062,1.39],[-1.047,1.417],[-1.038,1.361],[-1.071,1.344],[-1.116,1.326],[-1.094,1.273],[-1.006,1.282],[-.994,1.259],[-1.075,1.226],[-1.071,1.208],[-1.054,1.217],[-1.026,1.184],[-1.017,1.206],[-1.012,1.195],[-1.142,.929],[-1.147,.898],[-1.123,.882],[-1.105,.933],[-1.119,.891],
[-.691,1.769],[-.681,1.712],[-.684,1.32],[-.685,1.27],[-.563,1.308],[-.659,1.009],[-.682,.918],[-.7,.676],[-.644,.619],[-.584,.623],[-.667,.472],[-.445,1.091],[-.46,1.016],[-.418,.969],[-.319,1.794],[-.139,1.847],[-.326,1.375],[-.264,1.452],[-.188,1.381],[-.228,1.315],[-.299,1.259],[-.129,1.348],[-.161,1.259],[-.189,1.242],[-.196,1.177],[-.093,.889],[-.051,1.299],[-.038,1.282],[-.017,1.286],[-.002,1.286],[.028,1.322],[.003,1.044],[.054,1.091],[.034,1.918],[.144,1.94],[.086,1.503],[.156,1.486],[.16,1.344],[.125,1.251],[.192,1.246],[.213,1.244],[.247,1.461],[.247,1.681],[.255,1.874],[.301,1.807],[.355,1.867],[.396,1.767],[.436,1.831],[.472,1.761],[.509,1.86],[.46,1.683],[.52,1.616],[.586,1.911],[.663,1.909],[.599,1.767],[.685,1.752],[.705,1.836],[.373,1.404],[.384,1.366],[.436,1.404],[.435,1.364],[.441,1.317],[.539,1.353],[.389,1.297],[.395,1.22],[.33,1.282],[.316,1.255],[.3,1.246],[.342,1.204],[.344,1.169],[.289,1.182],[.314,1.146],[.569,1.208],[.607,1.182],[.609,1.142],[.634,1.144],[.633,1.111],[.643,1.111],[.557,1.151],[.542,1.137],[.527,1.109],[.505,1.153],[.487,1.144],[.415,1.111],[.429,1.091],[.355,1.067],[.283,1.073],[.297,1.042],[.25,1.038],[.287,1.011],[.54,1.044],[.475,.991],[.52,.987],[.494,.909]];

const NS = 'http://www.w3.org/2000/svg';
const plotLeft = 129.5, plotRight = 2048, plotTop = 22.3, plotBottom = 925;
const xMinLog = -4, xMaxLog = 1, yMinLog = -4, yMaxLog = 2;
function xAxis(v){ return plotLeft + (v - xMinLog) / (xMaxLog - xMinLog) * (plotRight - plotLeft); }
function yAxis(v){ return plotBottom - (v - yMinLog) / (yMaxLog - yMinLog) * (plotBottom - plotTop); }

const axesGroup = document.getElementById('axes');
const marksGroup = document.getElementById('marks');

function make(tag){ return document.createElementNS(NS, tag); }
function addTick(x1, y1, x2, y2, major, name){
  const t = make('line');
  t.setAttribute('x1', x1);
  t.setAttribute('y1', y1);
  t.setAttribute('x2', x2);
  t.setAttribute('y2', y2);
  t.setAttribute('stroke', '#231f20');
  t.setAttribute('stroke-width', major ? 2 : 1.8);
  
  
  axesGroup.appendChild(t);
}
const majorLen = 19, minorLen = 9.5;
xDecades.forEach(function(d){
  const px = xAxis(d);
  addTick(px, plotBottom, px, plotBottom - majorLen, true, 'x-major-tick');
  addTick(px, plotTop, px, plotTop + majorLen, true, 'x-major-tick-top');
  if (d < xMaxLog) minorMultipliers.forEach(function(m){
    const q = xAxis(d + Math.log10(m));
    addTick(q, plotBottom, q, plotBottom - minorLen, false, 'x-minor-tick');
    addTick(q, plotTop, q, plotTop + minorLen, false, 'x-minor-tick-top');
  });
});
yDecades.forEach(function(d){
  const py = yAxis(d);
  addTick(plotLeft, py, plotLeft + majorLen, py, true, 'y-major-tick');
  addTick(plotRight, py, plotRight - majorLen, py, true, 'y-major-tick-right');
  if (d < yMaxLog) minorMultipliers.forEach(function(m){
    const q = yAxis(d + Math.log10(m));
    addTick(plotLeft, q, plotLeft + minorLen, q, false, 'y-minor-tick');
    addTick(plotRight, q, plotRight - minorLen, q, false, 'y-minor-tick-right');
  });
});

function expText(d){ return (d < 0 ? '\u2212' + Math.abs(d) : String(d)); }
function addTickLabel(d, x, y, anchor, name){
  const t = make('text');
  t.setAttribute('x', x);
  t.setAttribute('y', y);
  t.setAttribute('text-anchor', anchor);
  t.setAttribute('font-size', '28');
  t.setAttribute('font-weight', '700');
  
  
  t.appendChild(document.createTextNode('10'));
  const s = make('tspan');
  s.setAttribute('dy', '-20');
  s.setAttribute('dx', '2');
  s.setAttribute('font-size', '20');
  s.textContent = expText(d);
  t.appendChild(s);
  axesGroup.appendChild(t);
}
xDecades.forEach(function(d){
  addTickLabel(d, xAxis(d) + 1, 970, 'middle', 'x-tick-label');
});
yDecades.forEach(function(d){
  addTickLabel(d, 69.5, yAxis(d) + 12, 'start', 'y-tick-label');
});

function drawSeries(points, colour, name){
  const g = make('g');
  g.setAttribute('fill', colour);
  
  
  points.forEach(function(p){
    const c = make('circle');
    c.setAttribute('cx', xAxis(p[0]).toFixed(1));
    c.setAttribute('cy', yAxis(p[1]).toFixed(1));
    c.setAttribute('r', '3.8');
    
    
    g.appendChild(c);
  });
  marksGroup.appendChild(g);
}
drawSeries(black, '#1d1b1c', 'series-c2h2o2');
drawSeries(red, '#f1271f', 'series-c2o2');
drawSeries(green, '#67bc3d', 'series-ch3so');
drawSeries(purple, '#a356a3', 'series-ch3so2');
drawSeries(cyan, '#5fc9d6', 'series-so4');
</script>
</body>
</html>
